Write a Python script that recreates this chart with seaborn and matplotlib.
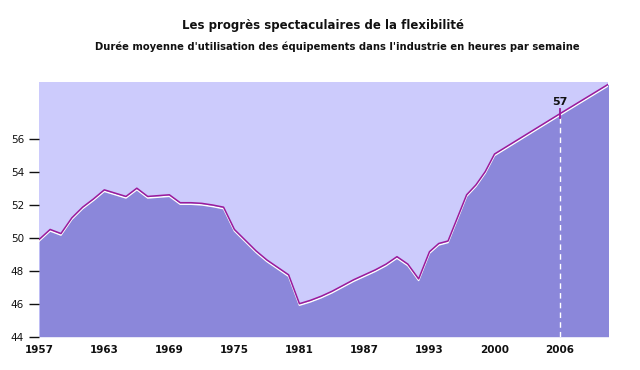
import numpy as np
import pandas as pd
import matplotlib
matplotlib.use("Agg")
import matplotlib.pyplot as plt
import matplotlib.patheffects as pe
import seaborn as sns

# Data (average equipment use, hours per week)
years = [1957, 1958, 1959, 1960, 1961, 1962, 1963, 1964, 1965, 1966, 1967,
         1968, 1969, 1970, 1971, 1972, 1973, 1974, 1975, 1976, 1977, 1978,
         1979, 1980, 1981, 1982, 1983, 1984, 1985, 1986, 1987, 1988, 1989,
         1990, 1991, 1992, 1993, 1994, 1995, 1996, 1997, 1998, 1999, 2000,
         2006, 2011]
hours = [49.9, 50.5, 50.25, 51.2, 51.85, 52.35, 52.9, 52.7, 52.5, 53.0, 52.5,
         52.55, 52.6, 52.12, 52.12, 52.08, 51.98, 51.85, 50.5, 49.85, 49.2, 48.65,
         48.2, 47.75, 46.0, 46.2, 46.45, 46.75, 47.1, 47.45, 47.75, 48.05, 48.4,
         48.85, 48.4, 47.5, 49.15, 49.65, 49.8, 51.2, 52.6, 53.2, 54.0, 55.07,
         57.5, 59.5]
tick_years = [1957, 1963, 1969, 1975, 1981, 1987, 1993, 2000, 2006]
tick_labels = ["1957", "1963", "1969", "1975", "1981", "1987", "1993", "2000", "2006"]
y_ticks = [44, 46, 48, 50, 52, 54, 56]
mark_year = 2006
mark_label = "57"
title = "Les progrès spectaculaires de la flexibilité"
subtitle = "Durée moyenne d'utilisation des équipements dans l'industrie en heures par semaine"

df = pd.DataFrame({"year": years, "hours": hours})

BG = "#CCCBFC"
FILL = "#8B87DA"
LINE = "#9B1A9B"

# piecewise x axis: 1993-2000 compressed to the same width as 6 years
def fwd(x):
    x = np.asarray(x, dtype=float)
    return np.where(x <= 1993, x, np.where(x <= 2000, 1993 + (x - 1993) * 6 / 7, x - 1))

def inv(u):
    u = np.asarray(u, dtype=float)
    return np.where(u <= 1993, u, np.where(u <= 1999, 1993 + (u - 1993) * 7 / 6, u + 1))

plt.rcParams["font.family"] = ["DejaVu Sans"]
fig = plt.figure(figsize=(6.4, 3.7), dpi=100)
ax = fig.add_axes([0.0614, 0.09, 0.9505 - 0.0614, 0.779 - 0.09])
ax.set_facecolor(BG)
ax.set_xscale("function", functions=(fwd, inv))

ax.fill_between(df["year"], 44, df["hours"], color=FILL, lw=0, zorder=1)
sns.lineplot(data=df, x="year", y="hours", ax=ax, color=LINE, lw=1.1, zorder=3,
             path_effects=[pe.SimpleLineShadow(offset=(0, -1.1), shadow_color="white",
                                               alpha=1.0, rho=1.0),
                           pe.Normal()])

mark_val = float(np.interp(mark_year, years, hours))
ax.plot([mark_year, mark_year], [44, mark_val - 0.2], color="white", lw=1,
        ls=(0, (4, 3)), zorder=2)
ax.plot([mark_year, mark_year], [mark_val - 0.25, mark_val + 0.3], color=LINE,
        lw=1.3, zorder=4)
ax.text(mark_year, mark_val + 0.4, mark_label, ha="center", va="bottom",
        fontsize=8, fontweight="bold", color="#111111", zorder=5)

ax.set_xlim(1957, 2010.5)
ax.set_ylim(44, 59.45)
ax.set_xticks(tick_years)
ax.set_xticklabels(tick_labels, fontweight="bold")
ax.set_yticks(y_ticks)
ax.minorticks_off()
ax.tick_params(axis="x", length=0, pad=6, labelsize=7.5, colors="#111111")
ax.tick_params(axis="y", length=7, width=1, pad=4, labelsize=7.5, colors="#111111")
ax.set_xlabel("")
ax.set_ylabel("")
for s in ax.spines.values():
    s.set_visible(False)

fig.text(0.505, 0.932, title, ha="center", va="center", fontsize=8.5,
         fontweight="bold", color="#111111")
fig.text(0.527, 0.873, subtitle, ha="center", va="center", fontsize=7.2,
         fontweight="bold", color="#111111")

fig.savefig("out.png", dpi=100, facecolor="white")
